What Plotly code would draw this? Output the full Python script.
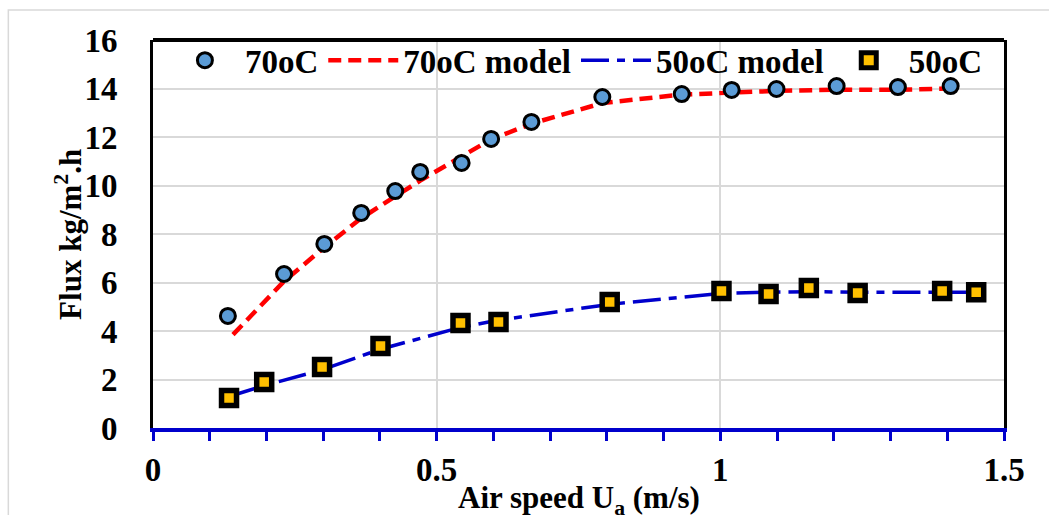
import plotly.graph_objects as go

# ---- data ----
x70 = [0.132, 0.231, 0.302, 0.367, 0.427, 0.471, 0.544, 0.596, 0.667, 0.792,
       0.932, 1.020, 1.099, 1.205, 1.313, 1.406]
y70 = [4.62, 6.35, 7.59, 8.87, 9.77, 10.56, 10.93, 11.92, 12.62, 13.65,
       13.77, 13.94, 13.98, 14.10, 14.06, 14.10]

x70m = [0.141, 0.231, 0.302, 0.367, 0.427, 0.471, 0.544, 0.596, 0.667, 0.792,
        0.932, 1.020, 1.099, 1.205, 1.313, 1.406]
y70m = [3.85, 6.05, 7.45, 8.65, 9.55, 10.2, 11.2, 11.9, 12.55, 13.4,
        13.75, 13.85, 13.9, 13.95, 13.95, 14.0]

x50 = [0.134, 0.196, 0.298, 0.401, 0.542, 0.609, 0.805, 1.002, 1.085, 1.156,
       1.242, 1.391, 1.451]
y50 = [1.24, 1.90, 2.52, 3.38, 4.33, 4.37, 5.20, 5.65, 5.53, 5.77,
       5.57, 5.65, 5.60]

x50m = [0.134, 0.196, 0.298, 0.401, 0.542, 0.609, 0.805, 1.002, 1.085, 1.156,
        1.242, 1.391, 1.451]
y50m = [1.30, 1.75, 2.40, 3.25, 4.15, 4.45, 5.10, 5.55, 5.60, 5.62,
        5.60, 5.60, 5.60]

xticks = [0, 0.5, 1, 1.5]
xticklabels = ["0", "0.5", "1", "1.5"]
yticks = [0, 2, 4, 6, 8, 10, 12, 14, 16]
yticklabels = ["0", "2", "4", "6", "8", "10", "12", "14", "16"]

x_title = "Air speed U<sub>a</sub> (m/s)"
y_title = "Flux kg/m<sup>2</sup>.h"

FONT = "Liberation Serif"
FS = 33

fig = go.Figure()
fig.add_trace(go.Scatter(x=x70m, y=y70m, mode="lines", name="<b>70oC model</b>",
                         line=dict(color="#FF0000", width=4.5, dash="13px,7px"),
                         legendrank=2))
fig.add_trace(go.Scatter(x=x50m, y=y50m, mode="lines", name="<b>50oC model</b>",
                         line=dict(color="#0000CC", width=3.5, dash="28px,8px,8px,8px"),
                         legendrank=3))
fig.add_trace(go.Scatter(x=x70, y=y70, mode="markers", name="<b>70oC</b>",
                         marker=dict(symbol="circle", size=15, color="#5B9BD5",
                                     line=dict(color="black", width=3)),
                         legendrank=1))
fig.add_trace(go.Scatter(x=x50, y=y50, mode="markers", name="<b>50oC</b>",
                         marker=dict(symbol="square", size=15, color="#FFC000",
                                     line=dict(color="black", width=5.5)),
                         legendrank=4))

fig.update_layout(
    width=1049, height=515,
    margin=dict(l=153, r=45, t=40, b=87, autoexpand=False),
    paper_bgcolor="white", plot_bgcolor="white",
    font=dict(family=FONT, size=FS, color="black"),
    showlegend=True,
    legend=dict(orientation="h", x=0.014, xanchor="left", y=1.02, yanchor="top",
                bgcolor="rgba(0,0,0,0)", borderwidth=0, itemwidth=70,
                font=dict(family=FONT, size=FS, color="black"),
                tracegroupgap=0, itemclick=False),
    xaxis=dict(range=[0, 1.5], tickvals=xticks,
               ticktext=["<b>%s</b>" % t for t in xticklabels],
               showgrid=True, gridcolor="#D9D9D9", gridwidth=2,
               showline=True, linecolor="#0000CC", linewidth=4,
               ticks="outside", ticklen=9, tickwidth=3, tickcolor="#0000CC",
               minor=dict(dtick=0.1, tick0=0, ticks="outside", ticklen=9,
                          tickwidth=3, tickcolor="#0000CC", showgrid=False),
               zeroline=False, ticklabelstandoff=0, automargin=False,
               tickfont=dict(family=FONT, size=FS, color="black")),
    yaxis=dict(range=[0, 16], tickvals=yticks,
               ticktext=["<b>%s</b>" % t for t in yticklabels],
               showgrid=True, gridcolor="#D9D9D9", gridwidth=2,
               showline=True, linecolor="black", linewidth=3, mirror=True,
               ticks="", zeroline=False, ticklabelstandoff=26, automargin=False,
               tickfont=dict(family=FONT, size=FS, color="black")),
    annotations=[
        dict(text="<b>%s</b>" % x_title, xref="paper", yref="paper",
             x=0.5, y=-0.185, xanchor="center", yanchor="middle",
             showarrow=False, font=dict(family=FONT, size=31, color="black")),
        dict(text="<b>%s</b>" % y_title, xref="paper", yref="paper",
             x=-0.1, y=0.5, xanchor="center", yanchor="middle", textangle=-90,
             showarrow=False, font=dict(family=FONT, size=31, color="black")),
    ],
    shapes=[
        dict(type="line", xref="paper", yref="paper", x0=0, x1=1, y0=1, y1=1,
             line=dict(color="black", width=4), layer="above"),
        dict(type="rect", xref="paper", yref="paper", x0=-0.170, x1=1.2,
             y0=-0.5, y1=1.077, line=dict(color="#D9D9D9", width=1.5),
             layer="below"),
    ],
)

fig.write_html("out.html")
